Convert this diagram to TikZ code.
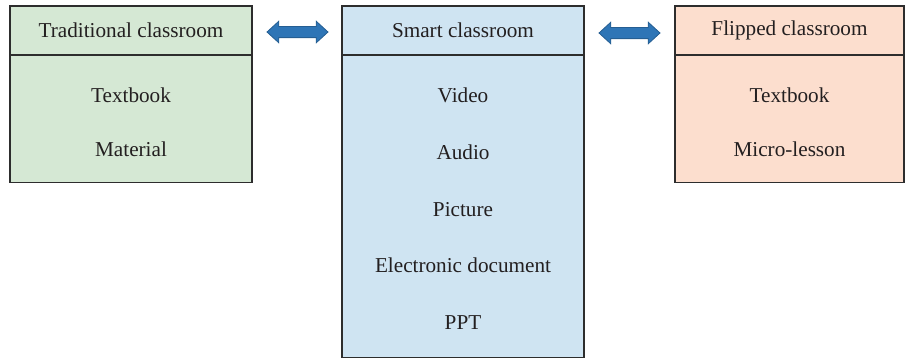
\documentclass[tikz,border=0pt]{standalone}
\usepackage{fontspec}
\setmainfont{Liberation Serif}
\definecolor{linecolor}{RGB}{45,45,45}
\definecolor{textcolor}{RGB}{35,31,32}
\definecolor{tradfill}{RGB}{213,232,212}
\definecolor{smartfill}{RGB}{207,228,242}
\definecolor{flipfill}{RGB}{252,222,206}
\definecolor{arrowfill}{RGB}{46,117,182}
\usetikzlibrary{shapes,shapes.arrows,positioning}
\tikzset{
	header/.style={
		rectangle,
		line width=0.7pt,
		draw=linecolor,
		text=textcolor,
		font=\fontsize{10.6}{12}\selectfont,
		minimum height=24.5pt,
		text centered
	},
	body/.style={
		rectangle,
		line width=0.7pt,
		draw=linecolor,
		text centered
	},
	item/.style={
		text=textcolor,
		font=\fontsize{10.6}{12}\selectfont,
		text height=1.6ex,
		text depth=0.4ex,
		inner sep=0pt
	},
	link/.style={
		double arrow,
		fill=arrowfill,
		draw=arrowfill!80!black,
		line width=0.4pt,
		inner sep=2.6pt,
		minimum height=30.5pt,
		double arrow head extend=2.6pt,
		double arrow tip angle=85
	},
}

\begin{document}
\begin{tikzpicture}[x=0.5pt,y=-0.5pt,node distance=27pt]
\useasboundingbox (0,0) rectangle (905,360);
% traditional classroom
\node [header,fill=tradfill,minimum width=121pt] (tradhead) at (131,30.5) {Traditional classroom};
\node [body,fill=tradfill,minimum width=121pt,minimum height=63.5pt] (tradbody) [below=-0.35pt of tradhead] {};
\node [item] (tradbook) at (131,97) {Textbook};
\node [item] (material) [below of = tradbook] {Material};

% smart classroom
\node [header,fill=smartfill,minimum width=121pt] (smarthead) at (463,30.5) {Smart classroom};
\node [body,fill=smartfill,minimum width=121pt,minimum height=151pt] (smartbody) [below=-0.35pt of smarthead] {};
\node [item] (video) at (463,97) {Video};
\node [item] (audio) [below of = video,node distance=28.4pt] {Audio};
\node [item] (picture) [below of = audio,node distance=28.4pt] {Picture};
\node [item] (edoc) [below of = picture,node distance=28.4pt] {Electronic document};
\node [item] (ppt) [below of = edoc,node distance=28.4pt] {PPT};

% flipped classroom
\node [header,fill=flipfill,minimum width=114.5pt] (fliphead) at (789.5,30.5) {Flipped classroom};
\node [body,fill=flipfill,minimum width=114.5pt,minimum height=63.5pt] (flipbody) [below=-0.35pt of fliphead] {};
\node [item] (flipbook) at (789.5,97) {Textbook};
\node [item] (microlesson) [below of = flipbook] {Micro-lesson};

% links
\node [link] (leftlink) at (297.5,32) {};
\node [link] (rightlink) at (629.5,33) {};
\end{tikzpicture}
\end{document}
